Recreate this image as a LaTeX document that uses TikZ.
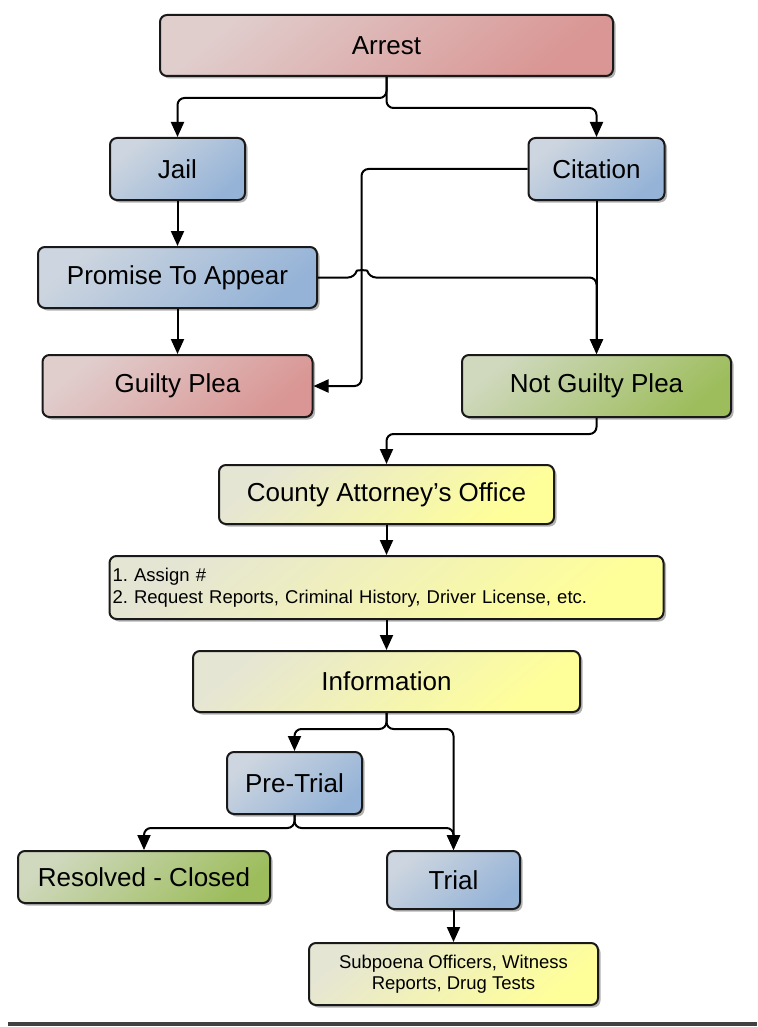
\documentclass[tikz,border=0pt]{standalone}
\usepackage{fontspec}
\setmainfont{Liberation Sans}
\usetikzlibrary{arrows.meta,shadows}
\definecolor{cred}{HTML}{D99694}
\definecolor{cblue}{HTML}{95B3D7}
\definecolor{cgreen}{HTML}{9DBD5C}
\definecolor{cyellow}{HTML}{FFFF99}
\tikzset{
  box/.style={draw=black!90, line width=2pt, rounded corners=7pt, inner sep=0pt,
    font=\fontsize{26}{30}\selectfont, align=center,
    drop shadow={shadow xshift=2.5pt, shadow yshift=-2.5pt, fill=black, opacity=0.3}},
  shadecol/.style={top color=#1!30!white!92!black, middle color=#1!80!white, bottom color=#1, shading angle=40},
  redbox/.style={box, shadecol=cred},
  bluebox/.style={box, shadecol=cblue},
  greenbox/.style={box, shadecol=cgreen},
  yellowbox/.style={box, top color=cyellow!20!white!90!black, middle color=cyellow!80!white, bottom color=cyellow, shading angle=40},
  small/.style={font=\fontsize{18.5}{21.5}\selectfont\frenchspacing},
  conn/.style={line width=2pt, draw=black, rounded corners=7pt},
  arr/.style={conn, -{Triangle[length=15pt,width=13pt]}},
}
\begin{document}
\begin{tikzpicture}[x=1pt,y=-1pt]
\useasboundingbox (0,0) rectangle (757,1027);
\node[redbox, minimum width=453pt, minimum height=61pt] (arrest) at (386.5,45.5) {Arrest};
\node[bluebox, minimum width=135pt, minimum height=62pt] (jail) at (177.5,169) {Jail};
\node[bluebox, minimum width=136pt, minimum height=62pt] (citation) at (596.5,169) {Citation};
\node[bluebox, minimum width=279pt, minimum height=61pt] (promise) at (177.5,277.5) {Promise To Appear};
\node[redbox, minimum width=270pt, minimum height=62pt] (guilty) at (177.5,386) {Guilty Plea};
\node[greenbox, minimum width=269pt, minimum height=62pt] (notguilty) at (596.5,386) {Not Guilty Plea};
\node[yellowbox, minimum width=335pt, minimum height=59pt] (county) at (386.5,494.5) {County Attorney’s Office};
\node[yellowbox, small, minimum width=554pt, minimum height=63pt, text width=548pt, align=left] (list) at (386.5,587.5)
  {1. Assign \#\\2. Request Reports, Criminal History, Driver License, etc.};
\node[yellowbox, minimum width=387pt, minimum height=61pt] (info) at (386.5,681.5) {Information};
\node[bluebox, minimum width=135pt, minimum height=62pt] (pretrial) at (294.5,783) {Pre-Trial};
\node[greenbox, minimum width=252pt, minimum height=52pt] (resolved) at (144,877) {Resolved - Closed};
\node[bluebox, minimum width=133pt, minimum height=58pt] (trial) at (453.5,880) {Trial};
\node[yellowbox, small, minimum width=289pt, minimum height=62pt] (subpoena) at (453.5,974)
  {Subpoena Officers, Witness\\Reports, Drug Tests};

\draw[arr] (arrest.south) -- ++(0,21) -| (jail.north);
\draw[arr] (arrest.south) -- ++(0,31) -| (citation.north);
\draw[arr] (jail) -- (promise);
\draw[arr] (promise) -- (guilty);
\draw[arr] (citation.west) -- ++(-166,0) |- (guilty.east);
\draw[arr] (citation) -- (notguilty);
\draw[arr] (promise.east) -- (355,277.5) .. controls (357,270) and (367,270) .. (369,277.5)
  -- (596.5,277.5) -- (notguilty.north);
\draw[arr] (notguilty.south) -- ++(0,16) -| (county.north);
\draw[arr] (county) -- (list);
\draw[arr] (list) -- (info);
\draw[arr] (info.south) -- ++(0,16) -| (pretrial.north);
\draw[arr] (info.south) -- ++(0,16) -| (trial.north);
\draw[arr] (pretrial.south) -- ++(0,13) -| (resolved.north);
\draw[arr] (pretrial.south) -- ++(0,13) -| (trial.north);
\draw[arr] (trial) -- (subpoena);

\coordinate (bl) at (8,1024);
\coordinate (br) at (757,1024);
\draw[line width=4pt, draw=black!75] (bl) -- (br);
\end{tikzpicture}
\end{document}
